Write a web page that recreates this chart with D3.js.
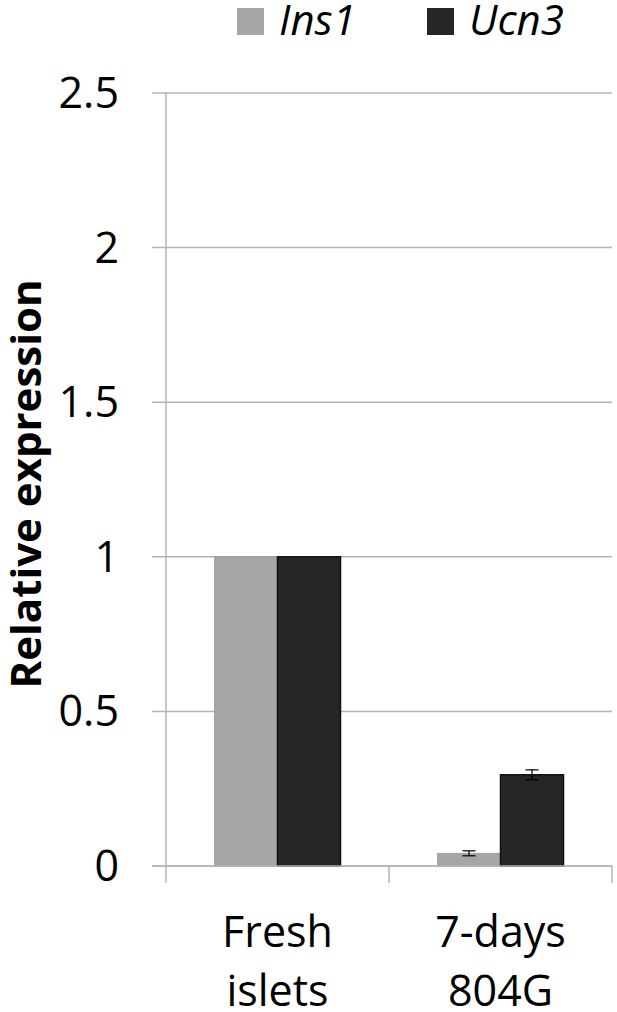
<!DOCTYPE html>
<html>
<head>
<meta charset="utf-8">
<script src="https://cdnjs.cloudflare.com/ajax/libs/d3/7.8.5/d3.min.js"></script>
<style>
  body { margin: 0; background: #fff; }
  text { font-family: "Open Sans", sans-serif; fill: #000; }
</style>
</head>
<body>
<script>
// Data
const categories = [["Fresh", "islets"], ["7-days", "804G"]];
const series = ["Ins1", "Ucn3"];
const colors = ["#a6a6a6", "#262626"];
const ins1 = [1, 0.041];
const ucn3 = [1, 0.295];
const ins1Err = [0, 0.008];
const ucn3Err = [0, 0.016];
const yTicks = [0, 0.5, 1, 1.5, 2, 2.5];

const W = 617, H = 1012;
const plotLeft = 166, plotRight = 612, plotTop = 93, plotBottom = 866;

const svg = d3.select("body").append("svg")
    .attr("width", W)
    .attr("height", H);

// scales
const x0 = d3.scaleBand()
    .domain(d3.range(categories.length))
    .range([plotLeft, plotRight])
    .paddingInner(0).paddingOuter(0);

const x1 = d3.scaleBand()
    .domain(series)
    .range([0, x0.bandwidth()])
    .paddingInner(0).paddingOuter(0.77);

const y = d3.scaleLinear()
    .domain([0, 2.5])
    .range([plotBottom, plotTop]);

const grid = "#b4b4b4";

// gridlines (the 0 line is the axis)
svg.append("g")
    .selectAll("line")
    .data(yTicks)
    .join("line")
    .attr("x1", plotLeft - 14)
    .attr("x2", plotRight)
    .attr("y1", d => y(d))
    .attr("y2", d => y(d))
    .attr("stroke", grid)
    .attr("stroke-width", 1.5);

// y axis line
svg.append("line")
    .attr("x1", plotLeft).attr("x2", plotLeft)
    .attr("y1", y(2.5)).attr("y2", plotBottom + 17)
    .attr("stroke", grid)
    .attr("stroke-width", 1.5);

// category separators
svg.append("g")
    .selectAll("line")
    .data(d3.range(1, categories.length + 1))
    .join("line")
    .attr("x1", i => x0(i) !== undefined ? x0(i) : plotRight)
    .attr("x2", i => x0(i) !== undefined ? x0(i) : plotRight)
    .attr("y1", plotBottom)
    .attr("y2", plotBottom + 17)
    .attr("stroke", grid)
    .attr("stroke-width", 1.5);

// y tick labels
svg.append("g")
    .selectAll("text")
    .data(yTicks)
    .join("text")
    .attr("x", 119)
    .attr("y", d => y(d))
    .attr("dy", "0.35em")
    .attr("text-anchor", "end")
    .style("font-size", "43px")
    .text(d => d);

// bars
const values = [ins1, ucn3];
const errs = [ins1Err, ucn3Err];

series.forEach((s, si) => {
  const g = svg.append("g");
  g.selectAll("rect")
    .data(values[si])
    .join("rect")
    .attr("x", (d, i) => x0(i) + x1(s))
    .attr("y", d => y(d))
    .attr("width", x1.bandwidth())
    .attr("height", d => plotBottom - y(d))
    .attr("fill", colors[si])
    .attr("stroke", si === 0 ? "#999" : "#111")
    .attr("stroke-width", si === 0 ? 0.8 : 1.5);

  // error bars
  const eb = g.selectAll("g.err")
    .data(values[si].map((v, i) => ({v: v, e: errs[si][i], i: i})).filter(d => d.e > 0))
    .join("g")
    .attr("class", "err");
  const cx = d => x0(d.i) + x1(s) + x1.bandwidth() / 2;
  eb.append("line")
    .attr("x1", cx).attr("x2", cx)
    .attr("y1", d => y(d.v - d.e)).attr("y2", d => y(d.v + d.e))
    .attr("stroke", "#000").attr("stroke-width", 1.2);
  eb.selectAll("line.cap")
    .data(d => [d.v - d.e, d.v + d.e].map(t => ({t: t, i: d.i})))
    .join("line")
    .attr("class", "cap")
    .attr("x1", d => cx(d) - 6.5).attr("x2", d => cx(d) + 6.5)
    .attr("y1", d => y(d.t)).attr("y2", d => y(d.t))
    .attr("stroke", "#000").attr("stroke-width", 1.2);
});

// x axis baseline
svg.append("line")
    .attr("x1", plotLeft - 14).attr("x2", plotRight)
    .attr("y1", plotBottom).attr("y2", plotBottom)
    .attr("stroke", grid)
    .attr("stroke-width", 1.5);

// category labels
const cl = svg.append("g")
    .selectAll("text")
    .data(categories)
    .join("text")
    .attr("x", (d, i) => x0(i) + x0.bandwidth() / 2)
    .attr("y", 947)
    .attr("text-anchor", "middle")
    .style("font-size", "43px");
cl.selectAll("tspan")
    .data(d => d)
    .join("tspan")
    .attr("x", function() { return d3.select(this.parentNode).attr("x"); })
    .attr("dy", (d, i) => i === 0 ? 0 : 59)
    .text(d => d);

// y axis title
svg.append("text")
    .attr("transform", "translate(41," + 484 + ") rotate(-90)")
    .attr("text-anchor", "middle")
    .style("font-size", "42px")
    .style("font-weight", "bold")
    .text("Relative expression");

// legend
const legX = [237, 427];
const leg = svg.append("g")
    .selectAll("g")
    .data(series)
    .join("g")
    .attr("transform", (d, i) => "translate(" + legX[i] + ",8)");
leg.append("rect")
    .attr("width", 27).attr("height", 27)
    .attr("fill", (d, i) => colors[i]);
leg.append("text")
    .attr("x", 42)
    .attr("y", 27)
    .style("font-size", "42px")
    .style("font-style", "italic")
    .text(d => d);
</script>
</body>
</html>
